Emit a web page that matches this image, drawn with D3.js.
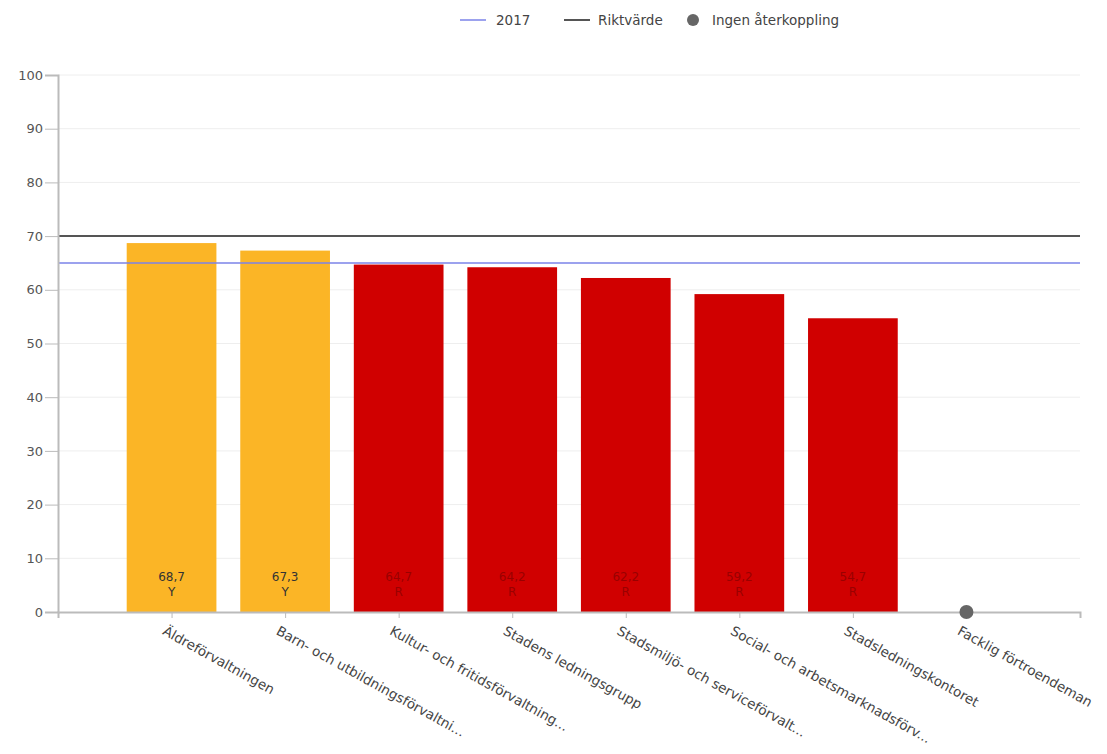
<!DOCTYPE html>
<html>
<head>
<meta charset="utf-8">
<script src="https://cdn.jsdelivr.net/npm/d3@7"></script>
<style>
  body { margin: 0; background: #fff; font-family: "DejaVu Sans", Verdana, sans-serif; }
</style>
</head>
<body>
<div id="chart"></div>
<script>
// chart data
var categories = ["Äldreförvaltningen", "Barn- och utbildningsförvaltni...", "Kultur- och fritidsförvaltning...",
    "Stadens ledningsgrupp", "Stadsmiljö- och serviceförvalt...", "Social- och arbetsmarknadsförv...",
    "Stadsledningskontoret", "Facklig förtroendeman"];
var values = [68.7, 67.3, 64.7, 64.2, 62.2, 59.2, 54.7, null];
var grades = ["Y", "Y", "R", "R", "R", "R", "R", null];
var line2017 = 65;
var riktvarde = 70;
var yTicks = [0, 10, 20, 30, 40, 50, 60, 70, 80, 90, 100];
var legendLabels = ["2017", "Riktvärde", "Ingen återkoppling"];

var gradeColors = {Y: "#fbb526", R: "#d00000"};
var gradeText = {Y: "#333", R: "#990000"};
var fontFam = "DejaVu Sans, Verdana, sans-serif";

var W = 1107, H = 754;
var margin = {top: 75, right: 27, bottom: 142, left: 58},
    width = W - margin.left - margin.right,
    height = H - margin.top - margin.bottom;

var svg = d3.select("#chart")
    .append("svg")
    .attr("width", W)
    .attr("height", H);

var g = svg.append("g")
    .attr("transform", "translate(" + margin.left + "," + margin.top + ")");

var x = d3.scalePoint()
    .domain(categories)
    .range([0, width])
    .padding(1);

var y = d3.scaleLinear()
    .domain([0, 100])
    .range([height, 0]);

var barW = x.step() * 0.79;

// grid lines
g.append("g")
    .selectAll("line")
    .data(yTicks.slice(1))
    .join("line")
    .attr("x1", 0).attr("x2", width)
    .attr("y1", function (d) { return y(d); })
    .attr("y2", function (d) { return y(d); })
    .attr("stroke", "#eee")
    .attr("stroke-width", 1);

// bars
var data = categories.map(function (c, i) {
    return {cat: c, value: values[i], grade: grades[i]};
});

g.append("g")
    .selectAll("rect")
    .data(data.filter(function (d) { return d.value != null; }))
    .join("rect")
    .attr("x", function (d) { return x(d.cat) - barW / 2; })
    .attr("y", function (d) { return y(d.value); })
    .attr("width", barW)
    .attr("height", function (d) { return height - y(d.value); })
    .attr("fill", function (d) { return gradeColors[d.grade]; });

// bar labels
var lbl = g.append("g")
    .selectAll("text")
    .data(data.filter(function (d) { return d.value != null; }))
    .join("text")
    .attr("text-anchor", "middle")
    .style("font-size", "12px")
    .style("font-family", fontFam)
    .attr("fill", function (d) { return gradeText[d.grade]; });
lbl.append("tspan")
    .attr("x", function (d) { return x(d.cat); })
    .attr("y", height - 31)
    .text(function (d) { return d3.format(".1f")(d.value).replace(".", ","); });
lbl.append("tspan")
    .attr("x", function (d) { return x(d.cat); })
    .attr("y", height - 16)
    .text(function (d) { return d.grade; });

// reference lines
g.append("line")
    .attr("x1", 0).attr("x2", width)
    .attr("y1", y(riktvarde)).attr("y2", y(riktvarde))
    .attr("stroke", "#555").attr("stroke-width", 2);
g.append("line")
    .attr("x1", 0).attr("x2", width)
    .attr("y1", y(line2017)).attr("y2", y(line2017))
    .attr("stroke", "#7b83e8").attr("stroke-width", 1.5);

// Y axis
var yAxis = g.append("g")
    .call(d3.axisLeft(y).tickValues(yTicks).tickSize(13).tickPadding(2));
yAxis.select(".domain").attr("stroke", "#bbb").attr("stroke-width", 2);
yAxis.selectAll(".tick line").attr("stroke", "#bbb");
yAxis.selectAll("text").attr("fill", "#555").style("font-size", "13px")
    .style("font-family", fontFam);

// X axis
var xAxis = g.append("g")
    .attr("transform", "translate(0," + height + ")")
    .call(d3.axisBottom(x).tickSize(6).tickSizeOuter(6));
xAxis.select(".domain").attr("stroke", "#bbb").attr("stroke-width", 2);
xAxis.selectAll(".tick line").attr("stroke", "#bbb");
xAxis.selectAll("text")
    .attr("fill", "#444")
    .style("font-size", "13.5px")
    .style("font-family", fontFam)
    .style("text-anchor", "start")
    .attr("dy", "0")
    .attr("transform", "translate(-6,14) rotate(29)");

// no feedback points
g.append("g")
    .selectAll("circle")
    .data(data.filter(function (d) { return d.value == null; }))
    .join("circle")
    .attr("cx", function (d) { return x(d.cat); })
    .attr("cy", height)
    .attr("r", 7)
    .attr("fill", "#666");

// legend
var legend = svg.append("g")
    .style("font-size", "13.5px")
    .style("font-family", fontFam)
    .attr("fill", "#444");
legend.append("line").attr("x1", 460).attr("x2", 486).attr("y1", 20).attr("y2", 20)
    .attr("stroke", "#7b83e8").attr("stroke-width", 1.5);
legend.append("text").attr("x", 496).attr("y", 25).text(legendLabels[0]);
legend.append("line").attr("x1", 564).attr("x2", 590).attr("y1", 20).attr("y2", 20)
    .attr("stroke", "#555").attr("stroke-width", 2);
legend.append("text").attr("x", 598).attr("y", 25).text(legendLabels[1]);
legend.append("circle").attr("cx", 693).attr("cy", 20).attr("r", 6).attr("fill", "#666");
legend.append("text").attr("x", 712).attr("y", 25).text(legendLabels[2]);
</script>
</body>
</html>
